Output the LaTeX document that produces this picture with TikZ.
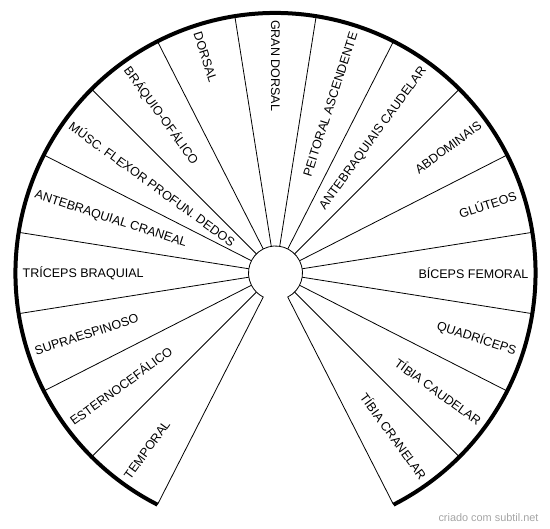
\documentclass[tikz,border=0pt]{standalone}
\usepackage{fontspec}
\setmainfont{Liberation Sans}
\definecolor{marcagris}{RGB}{165,165,165}
\usepackage{tikz}
\usetikzlibrary{calc, positioning}

\begin{document}
\begin{tikzpicture}[x=1pt, y=1pt,
	musculo/.style={font=\fontsize{12.5}{14}\selectfont, inner sep=0pt},
	radio/.style={line width=0.8pt}]
	\useasboundingbox (-275.5,-256) rectangle (274.5,273);
	% radios
	\foreach \a in {-45,-27,...,225}{
		\draw[radio] (\a:27) -- (\a:260);
	}
	% centro y bordes
	\draw[radio] (-63:260) -- (-63:27) arc[start angle=-63, end angle=243, radius=27]
		-- (243:260);
	\draw[line width=4pt] (-63:260) arc[start angle=-63, end angle=243, radius=260];
	% lado derecho
	\foreach \txt [count=\i] in {T\'IBIA CRANELAR, T\'IBIA CAUDELAR, QUADR\'ICEPS,
		B\'ICEPS FEMORAL, GL\'UTEOS, ABDOMINAIS, ANTEBRAQUIAIS CAUDELAR, PEITORAL ASCENDENTE}{
		\pgfmathsetmacro\ang{-72+18*\i}
		\node[musculo, rotate=\ang, anchor=east] (der-\i) at (\ang:253) {\txt};
	}
	% lado izquierdo
	\foreach \txt [count=\i] in {GRAN DORSAL, DORSAL, BR\'AQUIO-OF\'ALICO,
		M\'USC. FLEXOR PROFUN. DEDOS, ANTEBRAQUIAL CRANEAL, TR\'ICEPS BRAQUIAL,
		SUPRAESPINOSO, ESTERNOCEF\'ALICO, TEMPORAL}{
		\pgfmathsetmacro\ang{72+18*\i}
		\node[musculo, rotate=\ang-180, anchor=west] (izq-\i) at (\ang:253) {\txt};
	}
	\node[font=\fontsize{10.9}{12}\selectfont, text=marcagris, inner sep=0pt] (marca) at (213,-245) {criado com subtil.net};
\end{tikzpicture}
\end{document}
